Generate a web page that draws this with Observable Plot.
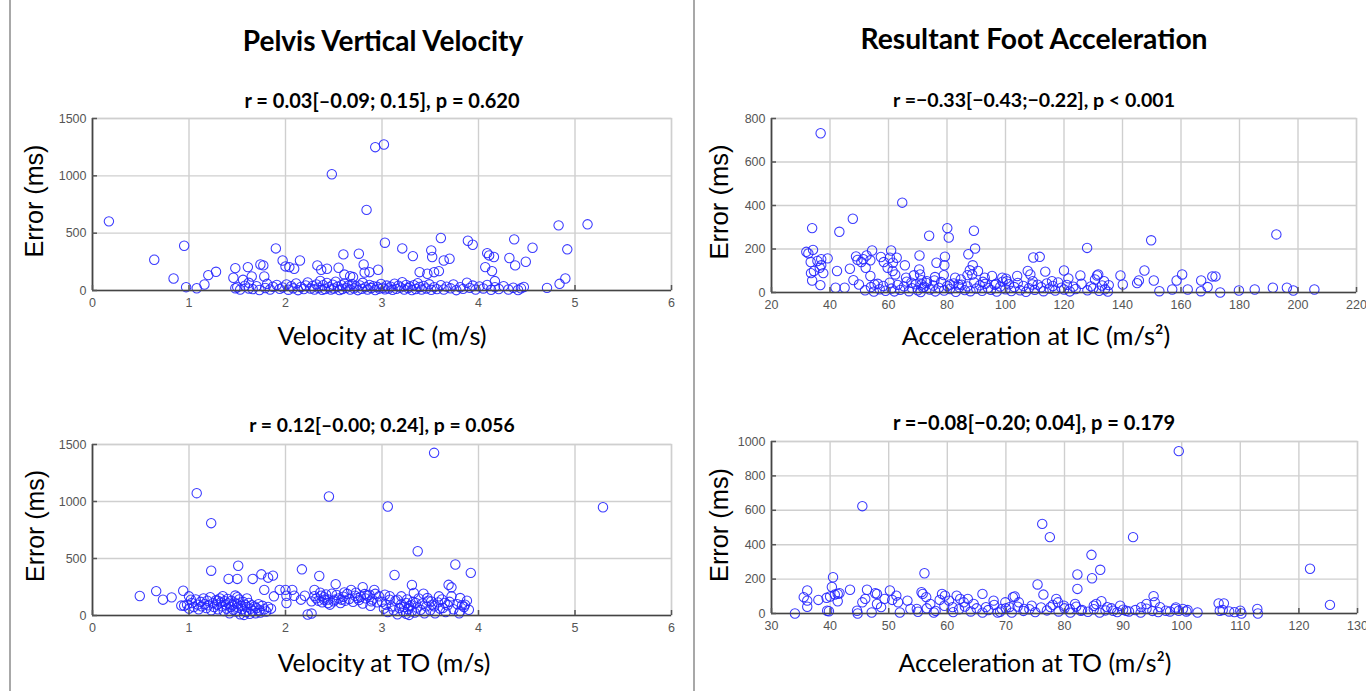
<!DOCTYPE html>
<html>
<head>
<meta charset="utf-8">
<script src="https://cdn.jsdelivr.net/npm/d3@7"></script>
<script src="https://cdn.jsdelivr.net/npm/@observablehq/plot@0.6"></script>
<style>
  html, body { margin: 0; padding: 0; background: #fff; }
  #page { position: relative; width: 1366px; height: 691px; overflow: hidden; background: #fff; }
  .panel { position: absolute; }
  .panel svg { overflow: visible; }
  .txt { position: absolute; white-space: nowrap; line-height: 1; font-family: "Lato", "Open Sans", sans-serif; color: #000; transform: translate(-50%, -50%); }
  .title { font-weight: 700; font-size: 26px; }
  .sub { font-weight: 700; font-size: 17px; }
  .xl { font-weight: 400; font-size: 22px; }
  .yl { font-family: "Liberation Sans", Arial, sans-serif; font-weight: 400; font-size: 24px; transform: translate(-50%, -50%) rotate(-90deg); }
  .vline { position: absolute; top: 0; width: 2px; height: 691px; background: #a8a8a8; }
</style>
</head>
<body>
<div id="page">
  <div class="vline" style="left:9px"></div>
  <div class="vline" style="left:693px"></div>

  <div class="txt title" data-w="281" style="left:383px; top:40px">Pelvis Vertical Velocity</div>
  <div class="txt title" data-w="347" style="left:1034px; top:38px">Resultant Foot Acceleration</div>

  <div class="txt sub" data-w="276" style="left:382px; top:100px">r = 0.03[–0.09; 0.15], p = 0.620</div>
  <div class="txt sub" data-w="282" style="left:1034px; top:100px">r =−0.33[−0.43;−0.22], p &lt; 0.001</div>
  <div class="txt sub" data-w="266" style="left:382px; top:425px">r = 0.12[–0.00; 0.24], p = 0.056</div>
  <div class="txt sub" data-w="282" style="left:1034px; top:422px">r =−0.08[−0.20; 0.04], p = 0.179</div>

  <div class="txt xl" data-w="209" style="left:382px; top:336px">Velocity at IC (m/s)</div>
  <div class="txt xl" data-w="269" style="left:1036px; top:336px">Acceleration at IC (m/s²)</div>
  <div class="txt xl" data-w="213" style="left:384px; top:663px">Velocity at TO (m/s)</div>
  <div class="txt xl" data-w="273" style="left:1035px; top:662px">Acceleration at TO (m/s²)</div>

  <div class="txt yl" data-w="113" style="left:35px; top:201px">Error (ms)</div>
  <div class="txt yl" data-w="115" style="left:720px; top:202px">Error (ms)</div>
  <div class="txt yl" data-w="112" style="left:35px; top:526px">Error (ms)</div>
  <div class="txt yl" data-w="114" style="left:720px; top:525px">Error (ms)</div>
</div>
<script>
// ---------- DATA ----------
const velTicks = [0, 1, 2, 3, 4, 5, 6];
const velErrTicks = [0, 500, 1000, 1500];
const accICTicks = [20, 40, 60, 80, 100, 120, 140, 160, 180, 200, 220];
const accICErrTicks = [0, 200, 400, 600, 800];
const accTOTicks = [30, 40, 50, 60, 70, 80, 90, 100, 110, 120, 130];
const accTOErrTicks = [0, 200, 400, 600, 800, 1000];

// [velocity at IC (m/s), error (ms)]
const velocityIC = [
[0.17,603],[0.64,268],[0.84,105],[0.95,390],[0.97,29],[1.08,20],[1.16,52],[1.2,134],[1.28,163],[1.46,111],
[1.48,195],[1.48,20],[1.56,93],[1.61,204],[1.65,122],[1.62,67],[1.74,227],[1.77,219],[1.78,122],[1.9,367],
[1.97,262],[2.0,210],[2.04,204],[2.09,190],[2.15,262],[2.33,219],[2.37,181],[2.43,190],[2.48,1014],[2.55,198],
[2.6,315],[2.61,139],[2.67,125],[2.7,117],[2.76,321],[2.81,227],[2.82,157],[2.84,703],[2.87,160],[2.93,1250],
[3.02,1273],[2.96,181],[3.03,417],[3.21,367],[3.32,300],[3.39,160],[3.47,146],[3.51,350],[3.52,292],[3.54,160],
[3.59,169],[3.61,458],[3.64,262],[3.7,277],[3.89,434],[3.94,399],[4.07,204],[4.09,326],[4.11,306],[4.16,292],
[4.14,169],[4.17,82],[4.32,283],[4.37,446],[4.38,219],[4.49,251],[4.56,373],[4.71,23],[4.83,568],[4.84,58],
[4.9,105],[4.92,359],[5.13,577],
[1.5,28],[1.53,8],[1.58,42],[1.62,18],[1.66,12],[1.7,38],[1.73,4],[1.79,22],[1.81,58],[1.84,9],
[1.87,33],[1.91,48],[1.94,14],[1.97,27],[2.01,52],[2.03,7],[2.06,37],[2.08,19],[2.11,62],[2.13,3],
[2.16,31],[2.19,13],[2.21,44],[2.23,71],[2.26,17],[2.28,39],[2.3,8],[2.32,53],[2.34,24],[2.36,83],
[2.38,6],[2.39,46],[2.41,12],[2.43,66],[2.45,28],[2.47,9],[2.49,51],[2.5,18],[2.52,77],[2.54,34],
[2.56,4],[2.58,47],[2.59,13],[2.61,61],[2.63,23],[2.65,41],[2.67,8],[2.69,56],[2.71,19],[2.73,36],
[2.75,3],[2.77,44],[2.79,14],[2.8,67],[2.83,29],[2.85,9],[2.87,49],[2.89,21],[2.91,38],[2.93,4],
[2.95,32],[2.97,16],[2.99,57],[3.01,24],[3.03,11],[3.05,43],[3.07,18],[3.09,34],[3.11,6],[3.13,59],
[3.15,14],[3.17,41],[3.19,26],[3.21,72],[3.23,9],[3.25,48],[3.27,21],[3.29,36],[3.31,4],[3.33,46],
[3.35,13],[3.37,63],[3.39,31],[3.41,8],[3.43,39],[3.46,18],[3.49,54],[3.51,6],[3.54,29],[3.57,12],
[3.61,47],[3.64,9],[3.67,34],[3.71,19],[3.74,52],[3.77,3],[3.81,28],[3.84,14],[3.88,68],[3.91,23],
[3.94,43],[3.97,8],[4.01,36],[4.05,18],[4.09,49],[4.13,6],[4.17,29],[4.21,13],[4.26,38],[4.31,9],
[4.36,24],[4.41,4],[4.44,19],[4.47,31]
];

// [acceleration at IC (m/s²), error (ms)]
const accelerationIC = [
[36.8,732],[33.9,296],[43.2,279],[47.8,339],[64.7,413],[73.9,261],[80.1,296],[80.6,253],[89.2,284],[89.6,202],
[87.3,176],[79.3,165],[70.6,170],[31.9,187],[32.6,180],[34.2,196],[33.4,140],[35.7,145],[37,153],[39.2,157],
[33.5,89],[34.5,99],[37,125],[36.5,114],[37.7,89],[33.9,55],[36.7,34],[42.4,99],[41.9,22],[45,22],
[46.8,109],[48.9,166],[49.4,150],[48,57],[49.9,37],[51.4,153],[50.7,140],[52.5,170],[53.8,148],[54.4,193],
[52.2,114],[53.8,76],[55.2,37],[57.4,163],[58.4,140],[59.7,114],[60.5,160],[60.9,193],[61.5,137],[62.8,160],
[61.4,99],[62.3,83],[65.6,125],[66,68],[67.8,45],[68.7,79],[70.5,106],[70.8,83],[71.3,57],[71.3,37],
[71.8,22],[73.1,52],[75.7,55],[76.4,137],[75.9,71],[78.9,80],[79.1,125],[81,37],[82.8,68],[83.9,37],
[84.7,60],[87,80],[87.8,102],[88.6,83],[88.8,125],[90.6,99],[92.3,49],[92.9,68],[95.4,76],[96.8,40],
[98.9,68],[100.2,63],[100.4,52],[104,76],[107.6,99],[109.5,161],[111.7,164],[108.5,83],[109.2,37],[113.6,96],
[115.9,52],[120,101],[121.5,65],[125.6,78],[127.9,205],[130.6,60],[131.3,78],[131.7,83],[133.7,52],[135.3,34],
[139.3,78],[140.1,37],[145,43],[145.6,55],[147.5,101],[149.8,240],[150.7,55],[152.6,6],[157,14],[158.5,55],
[160.4,83],[162.3,14],[166.9,55],[166.8,6],[169.1,25],[170.7,74],[171.8,74],[173.4,0],[179.8,9],[185.2,14],
[191.4,22],[192.6,267],[196.2,22],[198.4,9],[205.6,14],
[52,10],[54,25],[55,4],[56.3,40],[57,15],[58.2,30],[59,8],[60.4,45],[61,18],[62,5],
[63.1,35],[64,12],[65.3,28],[66.2,50],[67,6],[68,20],[69.4,38],[70,10],[71,2],[72.2,26],
[73,44],[74.1,14],[75.3,32],[76,5],[77.2,22],[78,48],[79,9],[80.1,30],[81,16],[82.3,42],
[83,3],[84.2,24],[85,36],[86.1,11],[87,28],[88,6],[89.3,46],[90,18],[91.2,33],[92,8],
[93.1,40],[94,21],[95,12],[96.3,35],[97,4],[98.2,27],[99,50],[100,15],[101.2,38],[102,7],
[103,25],[104.2,44],[105,10],[106.1,30],[107,3],[108,20],[109.3,52],[110,12],[111,36],[112.2,24],
[113,6],[114.1,42],[115,18],[116.2,30],[117,9],[118,46],[119.1,22],[120,14],[121,35],[122,5],
[123.2,27],[124,16],[126,40],[128,10],[129.2,28],[130,20],[132,8],[133,32],[134,15],[135,4]
];

// [velocity at TO (m/s), error (ms)]
const velocityTO = [
[0.49,171],[0.66,214],[0.73,139],[0.82,159],[0.94,217],[0.92,87],[1.0,168],[1.02,139],
[1.08,1073],[1.23,810],[2.45,1044],[3.54,1427],[3.06,956],[5.29,950],[3.37,564],[3.76,447],[3.92,374],[3.13,355],
[3.31,268],[3.69,269],[3.72,247],
[1.23,393],[1.51,436],[1.41,321],[1.5,321],[1.66,321],[1.75,361],[1.82,332],[1.87,350],[1.78,225],[1.88,168],
[1.94,225],[2.0,225],[2.01,173],[2.07,225],[2.01,110],[2.09,173],[2.16,139],[2.17,405],[2.2,173],[2.27,124],
[2.23,9],[2.27,17],[2.3,225],[2.35,347],[2.37,173],[2.4,139],[2.44,110],[2.52,275],[2.48,191],[2.51,139],
[2.58,139],[2.61,202],[2.68,225],[2.72,173],[2.75,153],[2.8,249],[2.82,188],[2.87,182],[2.92,225],[2.89,124],
[2.97,168],[3.03,182],[3.08,139],[3.16,139],[3.2,168],[3.25,110],[3.28,81],[3.33,197],[3.35,110],[3.43,191],
[3.47,153],[3.51,124],[3.54,81],[3.59,168],[3.63,66],[3.65,110],[3.72,168],[3.81,153],[3.83,90],[3.86,95],
[3.81,38],
[0.95,85],[0.98,95],[1.0,60],[1.03,110],[1.05,75],[1.07,140],[1.09,95],[1.1,55],[1.12,120],[1.13,80],
[1.15,150],[1.16,100],[1.18,65],[1.19,130],[1.2,90],[1.22,160],[1.23,45],[1.25,110],[1.26,75],[1.28,135],
[1.29,95],[1.3,55],[1.32,150],[1.33,115],[1.34,80],[1.35,170],[1.36,40],[1.37,125],[1.38,95],[1.39,60],
[1.4,145],[1.41,105],[1.42,20],[1.43,75],[1.44,130],[1.45,90],[1.46,50],[1.47,115],[1.48,175],[1.49,35],
[1.5,100],[1.51,70],[1.52,140],[1.53,10],[1.54,85],[1.55,55],[1.56,120],[1.57,5],[1.58,95],[1.59,30],
[1.6,75],[1.62,110],[1.63,15],[1.64,60],[1.65,90],[1.66,40],[1.68,80],[1.69,20],[1.7,65],[1.72,100],
[1.73,45],[1.74,25],[1.76,85],[1.78,55],[1.8,35],[1.82,75],[1.85,60],[1.6,150],[1.5,160],[1.3,130],
[2.3,170],[2.32,150],[2.34,130],[2.36,200],[2.38,115],[2.4,160],[2.42,185],[2.44,140],[2.46,95],[2.5,125],
[2.53,180],[2.55,150],[2.57,110],[2.6,165],[2.62,130],[2.64,190],[2.66,145],[2.7,120],[2.73,200],[2.76,135],
[2.78,165],[2.8,105],[2.83,150],[2.85,175],[2.88,85],[2.9,140],[2.93,190],[2.95,115],
[3.0,120],[3.02,60],[3.04,95],[3.06,30],[3.08,170],[3.1,80],[3.12,45],[3.14,130],[3.16,10],[3.18,65],
[3.2,100],[3.22,35],[3.23,75],[3.25,15],[3.26,140],[3.27,55],[3.28,5],[3.3,90],[3.31,40],[3.32,120],
[3.34,25],[3.36,70],[3.38,150],[3.4,50],[3.42,105],[3.44,20],[3.46,80],[3.48,130],[3.5,45],[3.52,95],
[3.55,20],[3.58,115],[3.6,60],[3.62,140],[3.66,30],[3.68,90],[3.7,120],[3.74,55],[3.78,100],[3.8,20],
[3.85,75],[3.88,130],[3.9,50]
];

// [acceleration at TO (m/s²), error (ms)]
const accelerationTO = [
[45.5,624],[99.5,944],[76.2,521],[77.5,444],[91.7,444],[84.6,341],[86.1,254],[82.2,227],[84.7,205],[82.2,143],
[75.4,169],[76.4,110],[121.9,260],[125.3,50],[95.2,101],[56.1,234],[40.5,211],[36.1,134],[34,0],[39.8,13],
[43.4,138],[46.3,138],[50.2,134],[55.6,124],[66,114],
[35.5,95],[36.1,75],[36.1,39],[38,79],[39.5,16],[39.4,91],[40,99],[40.3,154],[40.8,110],[41.3,114],
[41.6,118],[41.3,71],[44.6,16],[44.7,0],[45.5,65],[46,85],[47.1,6],[47.7,118],[48,114],[48,55],
[48.7,37],[49.3,85],[50.6,79],[51.3,104],[51.6,65],[51.9,6],[53.2,75],[53.7,26],[54.8,26],[55.8,114],
[56.4,95],[57.1,55],[57.7,6],[58.7,79],[59.1,114],[59.6,104],[60.3,75],[60.9,37],[61.6,104],[62.2,85],
[62.8,65],[63.5,85],[64.5,55],[66.6,37],[67.9,75],[68.6,6],[69.3,26],[69.9,65],[70.6,37],[71.2,95],
[71.5,99],[72.2,65],[73.1,26],[74.4,45],[77.6,37],[78.6,85],[78.9,65],[79.9,45],[80.9,26],[81.8,55],
[82.8,16],[85,45],[85.4,55],[86.3,71],[87.3,37],[88.3,16],[89.5,45],[90.5,16],[92.1,20],[93.1,37],
[94,55],[95.4,65],[96.3,37],[97.3,16],[98.9,26],[99.5,16],[100.2,26],[100.8,12],[102.7,6],[106.3,59],
[107.2,59],[106.5,16],[108.1,12],[110,16],[110.2,0],[112.9,26],[113,0],
[55,10],[56.5,30],[58,15],[59.5,45],[61,8],[62,25],[63,40],[64,12],[65,30],[66,5],
[67,20],[68,50],[69,10],[70,30],[71,5],[72,40],[73,15],[74,25],[75,8],[76,35],
[77,18],[78,50],[79,12],[80,30],[81,5],[82,40],[83,20],[84,10],[85,25],[86,5],
[87,18],[88,30],[89,8],[90,22],[91,12],[93,5],[94,28],[95,15],[96,8],[98,12],
[99,35],[101,20],[107,20],[109,8]
];

// ---------- RENDER ----------
const fmt = d => String(d);
function panel({data, xDomain, xTicks, yDomain, yTicks, left, top, width, height, marginLeft, marginRight, marginTop, marginBottom}) {
  const chart = Plot.plot({
    width, height, marginLeft, marginRight, marginTop, marginBottom,
    x: {domain: xDomain},
    y: {domain: yDomain},
    style: {fontFamily: "'Liberation Sans', Arial, sans-serif", fontSize: "12.5px", background: "transparent", overflow: "visible"},
    marks: [
      Plot.gridX(xTicks, {stroke: "#cfcfcf", strokeOpacity: 1, strokeWidth: 1.4}),
      Plot.gridY(yTicks, {stroke: "#cfcfcf", strokeOpacity: 1, strokeWidth: 1.4}),
      Plot.frame({stroke: "#cfcfcf", strokeWidth: 1.4}),
      Plot.dot(data, {x: d => d[0], y: d => d[1], r: 4.7, stroke: "#2323ff", strokeOpacity: 0.9, strokeWidth: 1.05, fill: "none"}),
      Plot.ruleY([yDomain[0]], {stroke: "#444", strokeWidth: 1.7}),
      Plot.ruleX([xDomain[0]], {stroke: "#444", strokeWidth: 1.7}),
      Plot.axisX(xTicks, {tickSize: -5, tickPadding: 13, label: null, tickFormat: fmt, color: "#555", strokeWidth: 1.5}),
      Plot.axisY(yTicks, {tickSize: -5, tickPadding: 11, label: null, tickFormat: fmt, color: "#555", strokeWidth: 1.5})
    ]
  });
  const wrap = document.createElement("div");
  wrap.className = "panel";
  wrap.style.left = left + "px";
  wrap.style.top = top + "px";
  wrap.appendChild(chart);
  document.getElementById("page").appendChild(wrap);
}

panel({data: velocityIC, xDomain: [0, 6], xTicks: velTicks, yDomain: [0, 1500], yTicks: velErrTicks,
  left: 40, top: 108, width: 643, height: 212, marginLeft: 52, marginRight: 12, marginTop: 10, marginBottom: 30});
panel({data: accelerationIC, xDomain: [20, 220], xTicks: accICTicks, yDomain: [0, 800], yTicks: accICErrTicks,
  left: 715, top: 108, width: 649, height: 214, marginLeft: 56, marginRight: 8, marginTop: 10, marginBottom: 30});
panel({data: velocityTO, xDomain: [0, 6], xTicks: velTicks, yDomain: [0, 1500], yTicks: velErrTicks,
  left: 40, top: 434, width: 643, height: 211, marginLeft: 52, marginRight: 12, marginTop: 10, marginBottom: 30});
panel({data: accelerationTO, xDomain: [30, 130], xTicks: accTOTicks, yDomain: [0, 1000], yTicks: accTOErrTicks,
  left: 715, top: 431, width: 650, height: 212, marginLeft: 56, marginRight: 8, marginTop: 10, marginBottom: 30});

// fit text widths
document.querySelectorAll(".txt[data-w]").forEach(el => {
  const target = +el.dataset.w;
  const fs = parseFloat(getComputedStyle(el).fontSize);
  const w = el.offsetWidth;
  if (w > 0) el.style.fontSize = (fs * target / w).toFixed(2) + "px";
});
</script>
</body>
</html>
